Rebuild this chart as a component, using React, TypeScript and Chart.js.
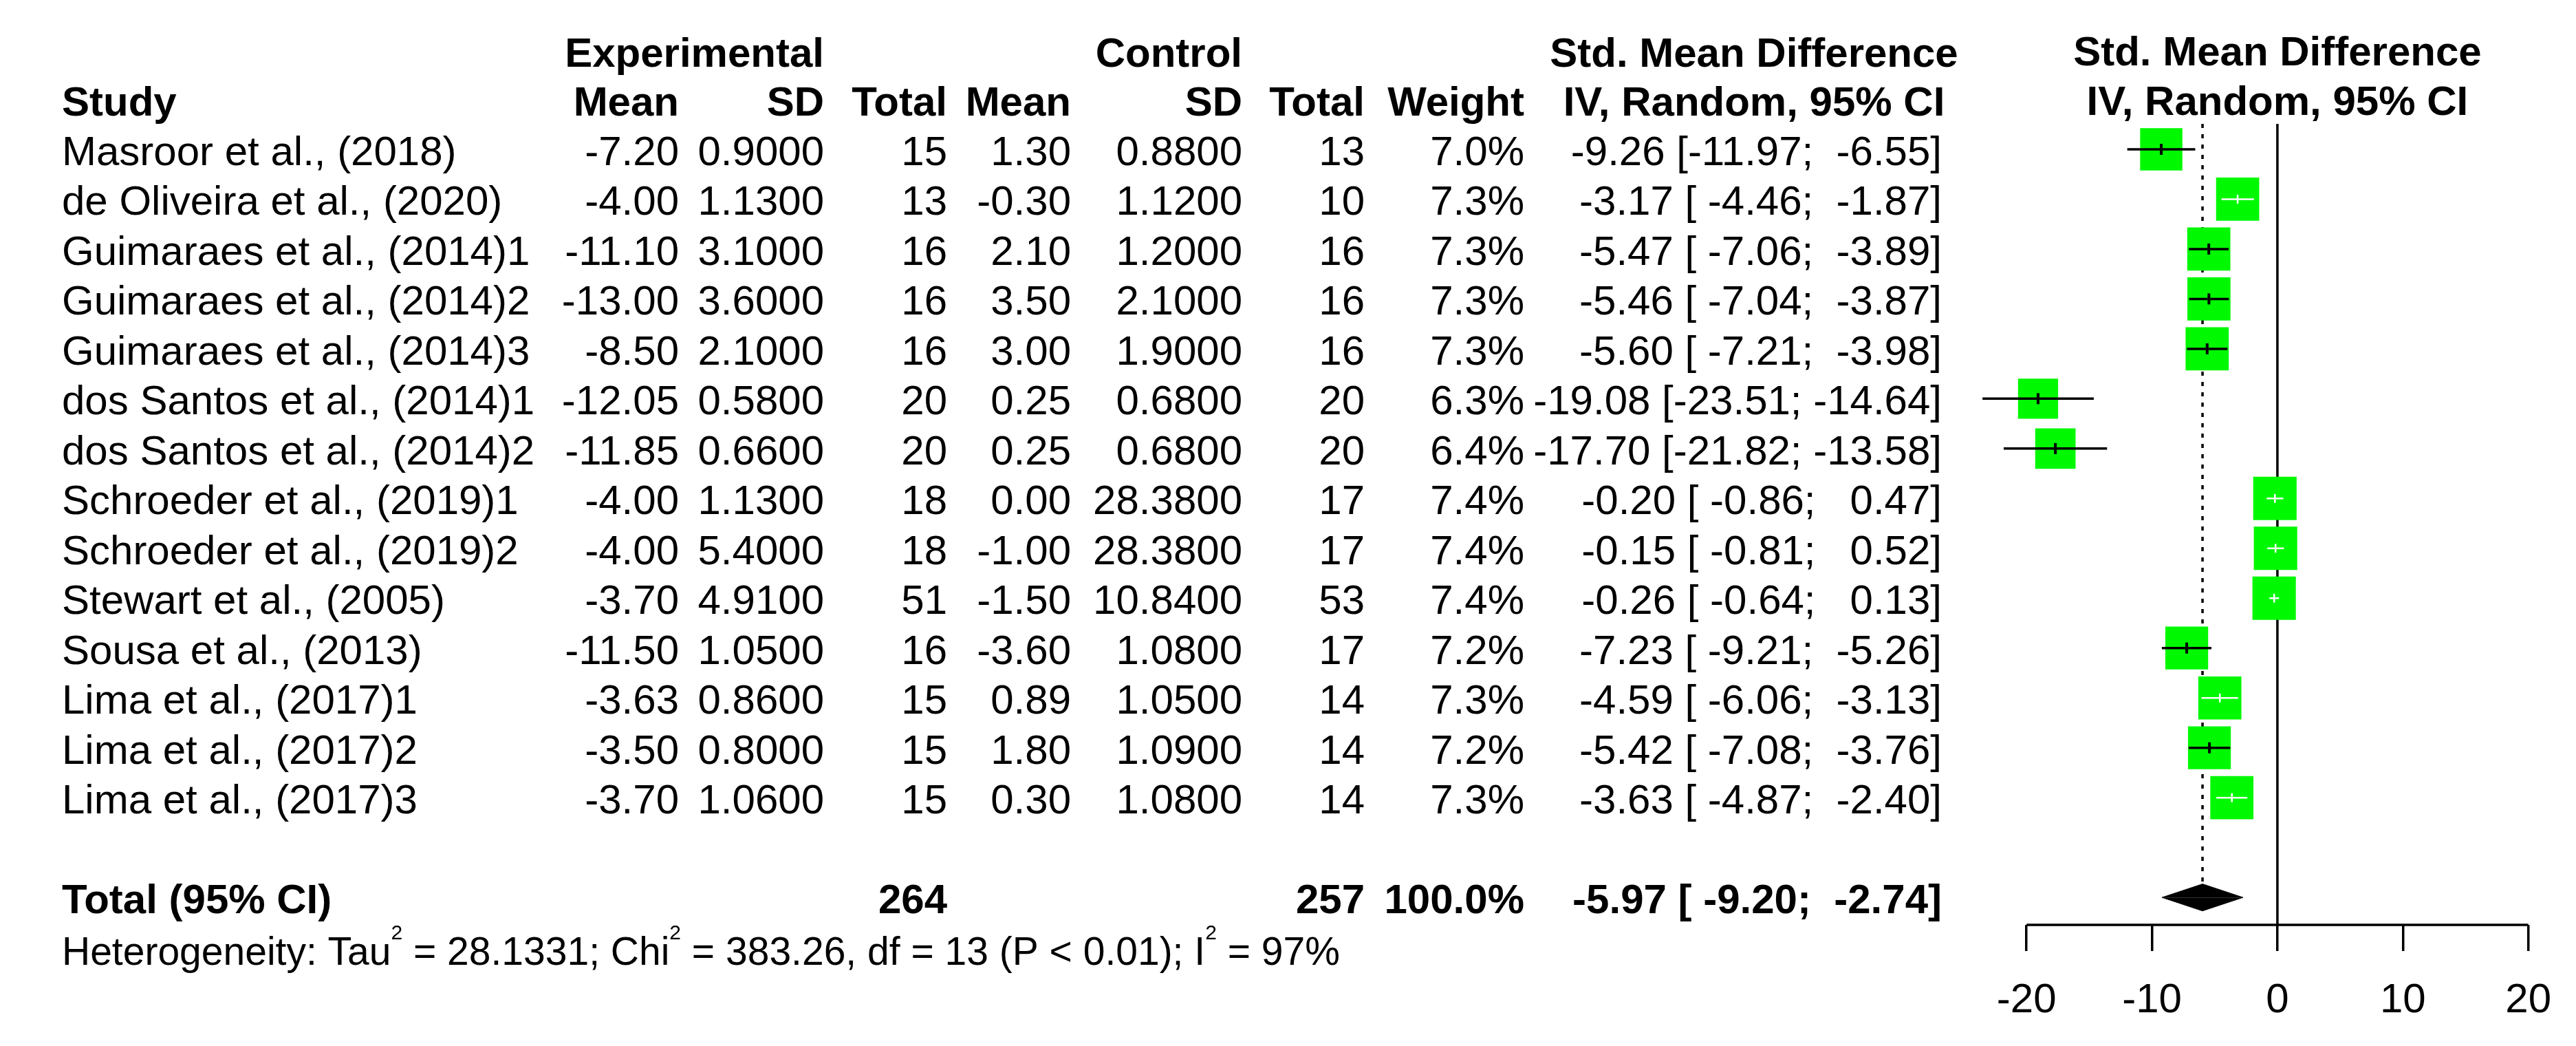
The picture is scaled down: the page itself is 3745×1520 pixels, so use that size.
import React, { useEffect, useRef } from "react";
import { Chart, registerables } from "chart.js";

Chart.register(...registerables);

const studies = [
  "Masroor et al., (2018)",
  "de Oliveira et al., (2020)",
  "Guimaraes et al., (2014)1",
  "Guimaraes et al., (2014)2",
  "Guimaraes et al., (2014)3",
  "dos Santos et al., (2014)1",
  "dos Santos et al., (2014)2",
  "Schroeder et al., (2019)1",
  "Schroeder et al., (2019)2",
  "Stewart et al., (2005)",
  "Sousa et al., (2013)",
  "Lima et al., (2017)1",
  "Lima et al., (2017)2",
  "Lima et al., (2017)3",
];
const expMean = [-7.2, -4.0, -11.1, -13.0, -8.5, -12.05, -11.85, -4.0, -4.0, -3.7, -11.5, -3.63, -3.5, -3.7];
const expSD = [0.9, 1.13, 3.1, 3.6, 2.1, 0.58, 0.66, 1.13, 5.4, 4.91, 1.05, 0.86, 0.8, 1.06];
const expN = [15, 13, 16, 16, 16, 20, 20, 18, 18, 51, 16, 15, 15, 15];
const ctrlMean = [1.3, -0.3, 2.1, 3.5, 3.0, 0.25, 0.25, 0.0, -1.0, -1.5, -3.6, 0.89, 1.8, 0.3];
const ctrlSD = [0.88, 1.12, 1.2, 2.1, 1.9, 0.68, 0.68, 28.38, 28.38, 10.84, 1.08, 1.05, 1.09, 1.08];
const ctrlN = [13, 10, 16, 16, 16, 20, 20, 17, 17, 53, 17, 14, 14, 14];
const weights = [7.0, 7.3, 7.3, 7.3, 7.3, 6.3, 6.4, 7.4, 7.4, 7.4, 7.2, 7.3, 7.2, 7.3];
const smd = [-9.26, -3.17, -5.47, -5.46, -5.6, -19.08, -17.7, -0.2, -0.15, -0.26, -7.23, -4.59, -5.42, -3.63];
const ciLow = [-11.97, -4.46, -7.06, -7.04, -7.21, -23.51, -21.82, -0.86, -0.81, -0.64, -9.21, -6.06, -7.08, -4.87];
const ciHigh = [-6.55, -1.87, -3.89, -3.87, -3.98, -14.64, -13.58, 0.47, 0.52, 0.13, -5.26, -3.13, -3.76, -2.4];

const totalExpN = 264;
const totalCtrlN = 257;
const totalWeight = 100.0;
const pooled = -5.97;
const pooledLow = -9.2;
const pooledHigh = -2.74;

const hetTau2 = "28.1331";
const hetChi2 = "383.26";
const hetDf = 13;
const hetP = "P < 0.01";
const hetI2 = "97%";

const xTicks = [-20, -10, 0, 10, 20];

const FONT = "'Liberation Sans', Arial, Helvetica, sans-serif";
const GREEN = "#00f800";
const TOTAL_ROW = 16;
const DIAMOND_H = 0.27;
const Y_MIN = 0.49;
const Y_MAX = 16.55;

const boxSide = weights.map((w) => 23.2 * Math.sqrt(w));

const f2 = (v: number) => v.toFixed(2);
const ciText = (e: number, lo: number, hi: number) =>
  `${f2(e)} [${f2(lo).padStart(6, " ")}; ${f2(hi).padStart(6, " ")}]`;

const isInside = (chart: any, i: number) => {
  const xs = chart.scales.x;
  if (!xs) return false;
  const w = Math.abs(xs.getPixelForValue(ciHigh[i]) - xs.getPixelForValue(ciLow[i]));
  return w < boxSide[i] - 7;
};

const COL = {
  study: 90,
  expMean: 987,
  expSD: 1198,
  expN: 1377,
  ctrlMean: 1557,
  ctrlSD: 1806,
  ctrlN: 1984,
  weight: 2216,
  ci: 2823,
  ciHeader: 2550,
};

const tablePlugin = {
  id: "forestTable",
  afterDraw(chart: any) {
    const ctx = chart.ctx as CanvasRenderingContext2D;
    const ys = chart.scales.y;
    const xs = chart.scales.x;
    ctx.save();
    ctx.fillStyle = "#000";
    ctx.textBaseline = "alphabetic";
    const txt = (s: string, x: number, y: number, align: CanvasTextAlign, bold = false, size = 60) => {
      ctx.font = `${bold ? "bold " : ""}${size}px ${FONT}`;
      ctx.textAlign = align;
      ctx.fillText(s, x, y);
    };
    const h1 = 97;
    const h2 = 168;
    txt("Experimental", COL.expSD, h1, "right", true);
    txt("Control", COL.ctrlSD, h1, "right", true);
    txt("Std. Mean Difference", COL.ciHeader, h1, "center", true);
    const x0 = xs.getPixelForValue(0);
    txt("Std. Mean Difference", x0, h1 - 2, "center", true);
    txt("IV, Random, 95% CI", x0, h2 - 1, "center", true);

    txt("Study", COL.study, h2, "left", true);
    txt("Mean", COL.expMean, h2, "right", true);
    txt("SD", COL.expSD, h2, "right", true);
    txt("Total", COL.expN, h2, "right", true);
    txt("Mean", COL.ctrlMean, h2, "right", true);
    txt("SD", COL.ctrlSD, h2, "right", true);
    txt("Total", COL.ctrlN, h2, "right", true);
    txt("Weight", COL.weight, h2, "right", true);
    txt("IV, Random, 95% CI", COL.ciHeader, h2, "center", true);

    studies.forEach((s, i) => {
      const y = ys.getPixelForValue(i + 1) + 23;
      txt(s, COL.study, y, "left");
      txt(f2(expMean[i]), COL.expMean, y, "right");
      txt(expSD[i].toFixed(4), COL.expSD, y, "right");
      txt(String(expN[i]), COL.expN, y, "right");
      txt(f2(ctrlMean[i]), COL.ctrlMean, y, "right");
      txt(ctrlSD[i].toFixed(4), COL.ctrlSD, y, "right");
      txt(String(ctrlN[i]), COL.ctrlN, y, "right");
      txt(`${weights[i].toFixed(1)}%`, COL.weight, y, "right");
      txt(ciText(smd[i], ciLow[i], ciHigh[i]), COL.ci, y, "right");
    });

    const ty = ys.getPixelForValue(TOTAL_ROW) + 23;
    txt("Total (95% CI)", COL.study, ty, "left", true);
    txt(String(totalExpN), COL.expN, ty, "right", true);
    txt(String(totalCtrlN), COL.ctrlN, ty, "right", true);
    txt(`${totalWeight.toFixed(1)}%`, COL.weight, ty, "right", true);
    txt(ciText(pooled, pooledLow, pooledHigh), COL.ci, ty, "right", true);

    // heterogeneity line with superscripts
    const hy = ty + 75;
    const size = 57;
    const supSize = 30;
    let x = COL.study;
    const part = (s: string, sup = false) => {
      ctx.font = `${sup ? supSize : size}px ${FONT}`;
      ctx.textAlign = "left";
      ctx.fillText(s, x, sup ? hy - 37 : hy);
      x += ctx.measureText(s).width;
    };
    part("Heterogeneity: Tau");
    part("2", true);
    part(` = ${hetTau2}; Chi`);
    part("2", true);
    part(` = ${hetChi2}, df = ${hetDf} (${hetP}); I`);
    part("2", true);
    part(` = ${hetI2}`);
    ctx.restore();
  },
};

export default function App() {
  const ref = useRef<HTMLCanvasElement | null>(null);
  useEffect(() => {
    if (!ref.current) return;
    const rows = studies.map((_, i) => i + 1);
    const ciData: any[] = [];
    rows.forEach((r, i) => {
      ciData.push({ x: ciLow[i], y: r }, { x: ciHigh[i], y: r }, { x: null, y: null });
    });
    const chart = new Chart(ref.current, {
      type: "line",
      data: {
        datasets: [
          {
            label: "estimate",
            data: rows.map((r, i) => ({ x: smd[i], y: r })),
            showLine: false,
            pointStyle: "line",
            pointRotation: 90,
            pointRadius: (c: any) => (isInside(c.chart, c.dataIndex) ? 6.5 : 8),
            pointBorderWidth: (c: any) => (isInside(c.chart, c.dataIndex) ? 2.5 : 4),
            pointBorderColor: (c: any) => (isInside(c.chart, c.dataIndex) ? "#fff" : "#000"),
            clip: false,
          } as any,
          {
            label: "ci",
            data: ciData,
            borderColor: "#000",
            borderWidth: 3.5,
            pointRadius: 0,
            spanGaps: false,
            clip: false,
            segment: {
              borderColor: (c: any) => {
                const i = Math.floor(c.p0DataIndex / 3);
                return isInside(c.chart, i) ? "#fff" : "#000";
              },
              borderWidth: (c: any) => {
                const i = Math.floor(c.p0DataIndex / 3);
                return isInside(c.chart, i) ? 2.5 : 3.5;
              },
            },
          } as any,
          {
            label: "boxes",
            data: rows.map((r, i) => ({ x: smd[i], y: r })),
            showLine: false,
            pointStyle: "rect",
            pointRadius: boxSide.map((s) => s / Math.SQRT2),
            pointBackgroundColor: GREEN,
            pointBorderWidth: 0,
            pointBorderColor: GREEN,
            clip: false,
          } as any,
          {
            label: "diamondTop",
            data: [
              { x: pooledLow, y: TOTAL_ROW },
              { x: pooled, y: TOTAL_ROW - DIAMOND_H },
              { x: pooledHigh, y: TOTAL_ROW },
            ],
            borderColor: "#000",
            backgroundColor: "#000",
            borderWidth: 1,
            pointRadius: 0,
            tension: 0,
            fill: { value: TOTAL_ROW },
            clip: false,
          } as any,
          {
            label: "diamondBottom",
            data: [
              { x: pooledLow, y: TOTAL_ROW },
              { x: pooled, y: TOTAL_ROW + DIAMOND_H },
              { x: pooledHigh, y: TOTAL_ROW },
            ],
            borderColor: "#000",
            backgroundColor: "#000",
            borderWidth: 1,
            pointRadius: 0,
            tension: 0,
            fill: { value: TOTAL_ROW },
            clip: false,
          } as any,
          {
            label: "axis",
            data: [
              { x: xTicks[0], y: Y_MAX },
              { x: xTicks[xTicks.length - 1], y: Y_MAX },
            ],
            borderColor: "#000",
            borderWidth: 3.5,
            pointRadius: 0,
            clip: false,
          } as any,
          {
            label: "zero",
            data: [
              { x: 0, y: Y_MIN },
              { x: 0, y: Y_MAX },
            ],
            borderColor: "#000",
            borderWidth: 3.5,
            pointRadius: 0,
            clip: false,
          } as any,
          {
            label: "pooledLine",
            data: [
              { x: pooled, y: Y_MIN },
              { x: pooled, y: TOTAL_ROW - DIAMOND_H },
            ],
            borderColor: "#000",
            borderWidth: 3.5,
            borderDash: [6, 9],
            pointRadius: 0,
            clip: false,
          } as any,
        ],
      },
      options: {
        responsive: false,
        animation: false,
        devicePixelRatio: 1,
        events: [],
        layout: { padding: { left: 2855, right: 69, top: 180, bottom: 0 } },
        plugins: {
          legend: { display: false },
          tooltip: { enabled: false },
        },
        scales: {
          x: {
            type: "linear",
            min: -25,
            max: 20,
            afterBuildTicks: (s: any) => {
              s.ticks = xTicks.map((v) => ({ value: v }));
            },
            afterFit: (s: any) => {
              s.height = 176;
            },
            grid: {
              drawOnChartArea: false,
              drawTicks: true,
              tickLength: 38,
              color: "#000",
              lineWidth: 3.5,
            },
            border: { display: false },
            ticks: {
              color: "#000",
              font: { size: 60, family: FONT },
              padding: 36,
              maxRotation: 0,
              autoSkip: false,
            },
          },
          y: {
            type: "linear",
            min: Y_MIN,
            max: Y_MAX,
            reverse: true,
            display: false,
          },
        },
      } as any,
      plugins: [tablePlugin],
    });
    return () => chart.destroy();
  }, []);
  return (
    <canvas
      ref={ref}
      width={3745}
      height={1520}
      style={{ position: "absolute", left: 0, top: 0, width: 3745, height: 1520 }}
    />
  );
}
